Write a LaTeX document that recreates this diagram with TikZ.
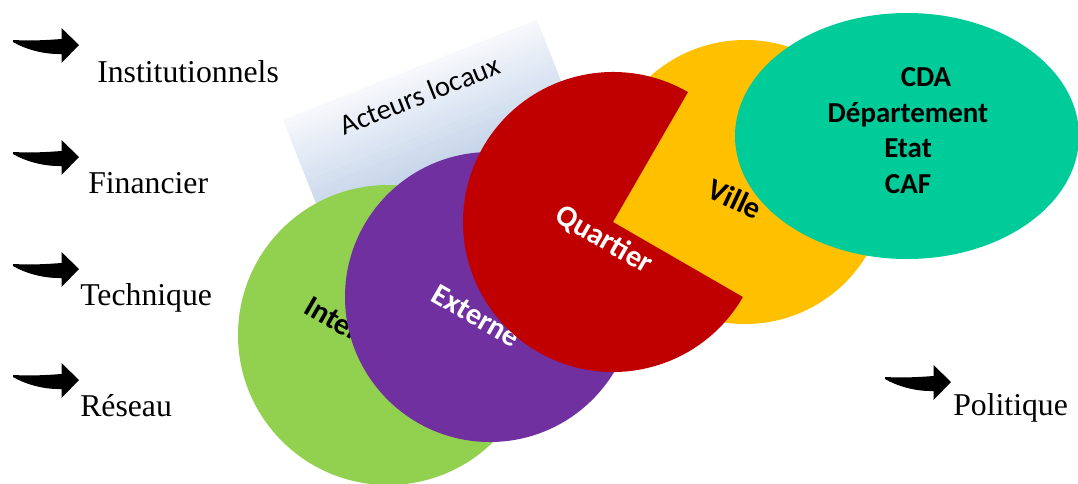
\documentclass[tikz,border=0pt]{standalone}
\usepackage{fontspec}
\setmainfont{Liberation Serif}
\newfontfamily\cfont{Carlito}
\definecolor{cvert}{HTML}{92D050}
\definecolor{cviolet}{HTML}{7030A0}
\definecolor{crouge}{HTML}{C00000}
\definecolor{cjaune}{HTML}{FFC000}
\definecolor{cturq}{HTML}{00CC99}
\definecolor{cciel}{HTML}{B4C8E3}
\definecolor{cblanc}{HTML}{F6F8FC}
\tikzset{
  fleche/.pic={\fill (0,0) .. controls (20,1) and (35,0) .. (48.5,-1) -- (48.5,-12) -- (66,5)
    -- (48.5,23) -- (48.5,14) .. controls (30,14.5) and (12,9) .. (0,2) -- cycle;},
  mot/.style={anchor=base west,inner sep=0pt,font=\fontsize{23.8}{28}\selectfont},
  etiq/.style={font=\cfont\bfseries\fontsize{22.8}{27}\selectfont},
  acteur/.style={anchor=base,inner sep=0pt,font=\cfont\bfseries\fontsize{21.7}{26}\selectfont}
}
\begin{document}
\begin{tikzpicture}[x=0.75pt,y=-0.75pt]
\useasboundingbox (0,0) rectangle (1078,483);

\pic at (13,40) {fleche};
\pic at (13,152) {fleche};
\pic at (13,264) {fleche};
\pic at (13,375) {fleche};
\pic at (885,377) {fleche};
\node[mot] (inst) at (97,82) {Institutionnels};
\node[mot] (fin) at (88,193) {Financier};
\node[mot] (tech) at (80,305) {Technique};
\node[mot] (res) at (80,416) {Réseau};
\node[mot] (pol) at (953,415) {Politique};

% acteurs locaux
\begin{scope}[shift={(283,120)},rotate=21.6]
\foreach \i in {0,...,27}{
  \pgfmathsetmacro\p{\i*100/27}
  \fill[cciel!\p!cblanc] (0,\i*5) rectangle (273,\i*5+5.6);
}
\end{scope}
\node[font=\cfont\fontsize{21.5}{25}\selectfont,rotate=21.6] (loc) at (420,95) {Acteurs locaux};

\fill[cvert] (388,335) circle (150);
\node[etiq,anchor=base west,inner sep=0pt,rotate=-30] (int) at (302,312) {Interne};
\fill[cviolet] (490,297) circle (145);
\node[etiq,white,rotate=-30] (ext) at (476,316) {Externe};
\fill[cjaune] (745,182) circle (142);
\node[etiq,rotate=-25] (vil) at (735,199) {Ville};
\fill[crouge] (613,222) -- ++(-60:150) arc[start angle=-60,end angle=-330,radius=150] -- cycle;
\node[etiq,white,rotate=-30] (qua) at (604,240) {Quartier};

\fill[cturq] (907,136) ellipse [x radius=172,y radius=123];
\node[acteur] (cda) at (926,86) {CDA};
\node[acteur] (dep) at (908,122) {Département};
\node[acteur] (eta) at (908,157) {Etat};
\node[acteur] (caf) at (908,193) {CAF};

\end{tikzpicture}
\end{document}
